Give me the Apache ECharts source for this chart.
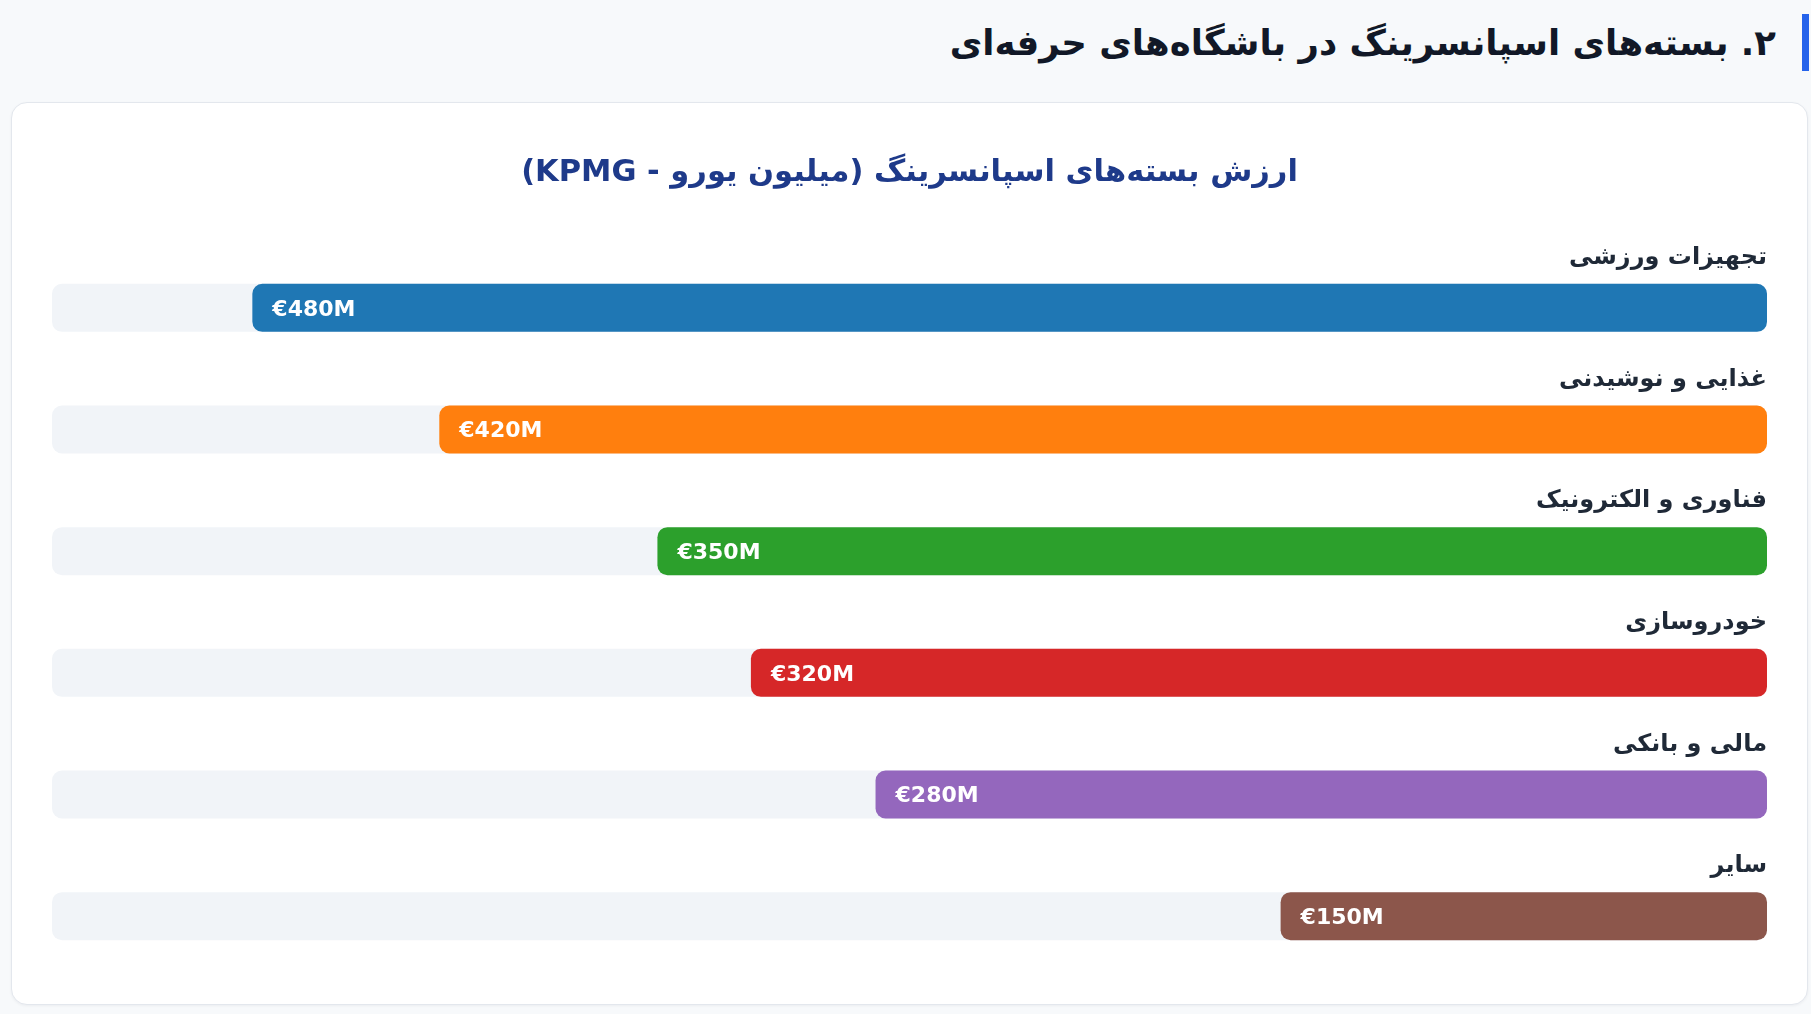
<!DOCTYPE html>
<html lang="fa">
<head>
<meta charset="utf-8">
<title>بسته‌های اسپانسرینگ</title>
<script src="https://cdn.jsdelivr.net/npm/echarts@6/dist/echarts.min.js"></script>
<style>
  html, body { margin: 0; padding: 0; width: 1811px; height: 1014px; background: #f7f9fb; overflow: hidden;
    font-family: "DejaVu Sans", "Noto Sans", sans-serif; }
  h2 { position: absolute; right: 2px; top: 14px; margin: 0; height: 57px; line-height: 57px;
    font-size: 35.5px; font-weight: bold; color: #111827; border-right: 7px solid #2563eb; padding-right: 26px;
    direction: rtl; white-space: nowrap; }
  .card { position: absolute; left: 11px; top: 102px; width: 1795px; height: 901px; background: #fff;
    border: 1px solid #e3e7ed; border-radius: 16px; box-shadow: 0 1px 3px rgba(15,23,42,0.05); }
  #chart { width: 1795px; height: 901px; }
</style>
</head>
<body>
<h2>۲. بسته‌های اسپانسرینگ در باشگاه‌های حرفه‌ای</h2>
<div class="card"><div id="chart" dir="rtl"></div></div>
<script>
const chartTitle = 'ارزش بسته‌های اسپانسرینگ (میلیون یورو - KPMG)';
const categories = ['تجهیزات ورزشی', 'غذایی و نوشیدنی', 'فناوری و الکترونیک', 'خودروسازی', 'مالی و بانکی', 'سایر'];
const values = [480, 420, 350, 320, 280, 150];
const colors = ['#1f77b4', '#ff7f0e', '#2ca02c', '#d62728', '#9467bd', '#8c564b'];

const chart = echarts.init(document.getElementById('chart'), null, { renderer: 'canvas' });
chart.setOption({
  animation: false,
  title: {
    text: chartTitle,
    left: 'center',
    top: 50,
    textStyle: { fontFamily: 'DejaVu Sans', fontSize: 30.5, fontWeight: 'bold', color: '#1e3a8a' }
  },
  grid: { left: 40, right: 40, top: 144, bottom: 27, containLabel: false },
  xAxis: {
    type: 'value',
    inverse: true,
    min: -6.1,
    max: 544.3,
    startValue: -6.1,
    show: false,
    splitLine: { show: false }
  },
  yAxis: {
    type: 'category',
    data: categories,
    inverse: true,
    position: 'right',
    axisLine: { show: false },
    axisTick: { show: false },
    splitLine: { show: false },
    axisLabel: { show: false }
  },
  series: [{
    type: 'bar',
    data: values.map((v, i) => ({ value: v, itemStyle: { color: colors[i] } })),
    barWidth: 48,
    showBackground: true,
    backgroundStyle: { color: '#f1f4f8', borderRadius: 10 },
    itemStyle: { borderRadius: 10 },
    label: {
      show: true,
      position: 'insideLeft',
      distance: 20,
      offset: [0, 2],
      formatter: p => '€' + p.value + 'M',
      fontFamily: 'DejaVu Sans',
      fontSize: 22,
      fontWeight: 'bold',
      color: '#ffffff'
    }
  }, {
    type: 'bar',
    data: values,
    barWidth: 48,
    barGap: '-100%',
    silent: true,
    itemStyle: { color: 'rgba(0,0,0,0)' },
    label: {
      show: true,
      position: ['100%', 0],
      align: 'right',
      verticalAlign: 'bottom',
      offset: [0, -14],
      formatter: p => categories[p.dataIndex],
      fontFamily: 'DejaVu Sans',
      fontSize: 24,
      fontWeight: 'bold',
      color: '#1f2937'
    }
  }]
});
</script>
</body>
</html>
